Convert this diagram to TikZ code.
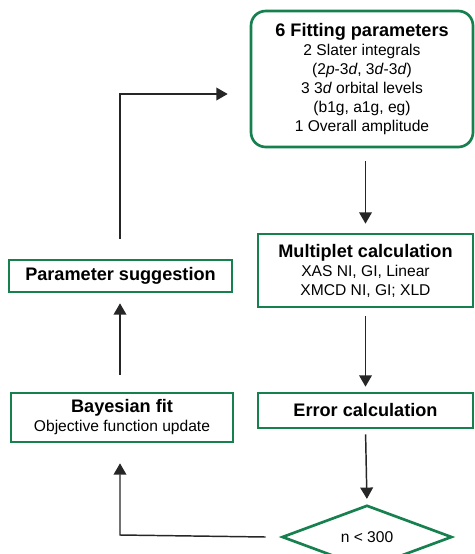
\documentclass[tikz,border=0pt]{standalone}
\usepackage{fontspec}
\setmainfont{Liberation Sans}
\usepackage{tikz}
\usetikzlibrary{arrows.meta}
\usetikzlibrary{shapes.geometric}
\usetikzlibrary{positioning}

\definecolor{fitgreen}{RGB}{22,128,78}
\newcommand{\hd}[1]{{\fontsize{13.6}{15}\bfseries\selectfont #1}}

\begin{document}
\begin{tikzpicture}[x=0.75pt, y=-0.75pt, thick,
	>={Triangle[width=9.5pt,length=8.5pt]},
	box/.style={rectangle, draw=fitgreen, line width=2pt, align=center,
				inner sep=0pt, font=\fontsize{11.7}{14.2}\selectfont},
	rbox/.style={box, rounded corners=11pt},
	test/.style={diamond, draw=fitgreen, line width=2pt, inner sep=0pt,
				font=\fontsize{11.7}{13}\selectfont},
	flow/.style={->, draw=black!85, line width=1.1pt},
]
\useasboundingbox (0,0) rectangle (475,554);
\clip (0,0) rectangle (475,554);
\node [rbox, minimum width=222*0.75pt, minimum height=136*0.75pt] (params) at (362,79)
	{\hd{6 Fitting parameters}\\[0.5pt] 2 Slater integrals\\
	 (2\textit{p}-3\textit{d}, 3\textit{d}-3\textit{d})\\
	 3 3\textit{d} orbital levels\\ (b1g, a1g, eg)\\ 1 Overall amplitude};
\node [box, minimum width=215*0.75pt, minimum height=73*0.75pt] (multi) at (365.5,270.5)
	{\hd{Multiplet calculation}\\ XAS NI, GI, Linear\\ XMCD NI, GI; XLD};
\node [box, minimum width=215*0.75pt, minimum height=35*0.75pt] (err) at (365.5,410.5)
	{\hd{Error calculation}};
\node [test, minimum width=170*0.75pt, minimum height=44*0.75pt] (cond) at (367,537)
	{n < 300};
\node [box, minimum width=223*0.75pt, minimum height=32*0.75pt] (sugg) at (120.5,276)
	{\hd{Parameter suggestion}};
\node [box, minimum width=222*0.75pt, minimum height=49*0.75pt] (bayes) at (122,417.5)
	{\hd{Bayesian fit}\\ Objective function update};
%
\coordinate (top) at (120,94);
\coordinate (low) at (120,535);
\draw [flow, shorten <=13*0.75pt, shorten >=9*0.75pt] (params.south -| multi) -- (multi.north);
\draw [flow, shorten <=8*0.75pt, shorten >=5*0.75pt] (multi.south) -- (err.north);
\draw [flow, shorten <=5*0.75pt, shorten >=5*0.75pt] (err.south) -- (cond.north);
\draw [flow, shorten >=20*0.75pt] (cond.west) ++(-15,0) -- (low) -- (bayes.south -| low);
\draw [flow, shorten <=17*0.75pt, shorten >=10*0.75pt] (bayes.north -| low) -- (sugg.south -| low);
\draw [flow, shorten <=20*0.75pt, shorten >=22*0.75pt] (sugg.north -| top) -- (top) -- (top -| params.west);
\end{tikzpicture}
\end{document}
